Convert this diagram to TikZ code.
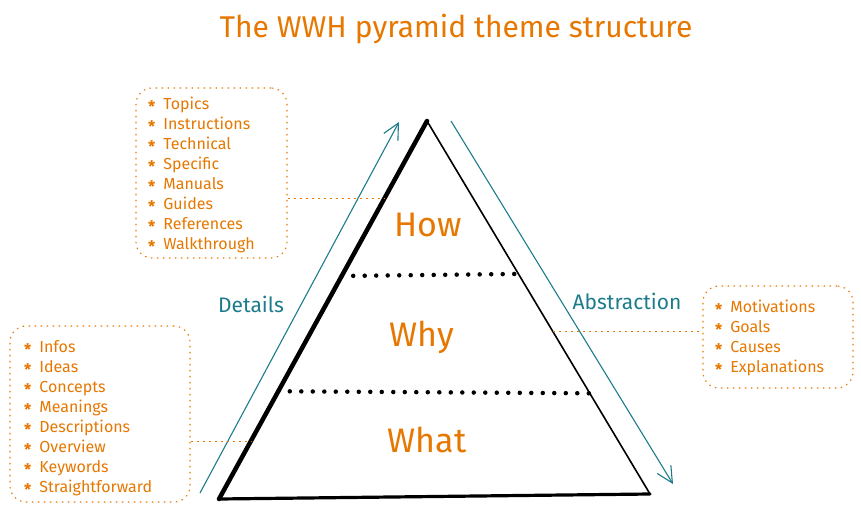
\documentclass[tikz,border=0pt]{standalone}
\usepackage{fontspec}
\setmainfont{Fira Sans}
\usetikzlibrary{arrows.meta, calc, positioning}
\definecolor{wwhorange}{HTML}{E67700}
\definecolor{wwhteal}{HTML}{1C7C8C}
\newcommand{\itm}[1]{\raisebox{-0.35ex}{\bfseries *}\hspace{8pt}#1}

\begin{document}
\begin{tikzpicture}[
    x=1pt, y=-1pt,
    every node/.style={text=wwhorange},
    listbox/.style={draw=wwhorange, line width=1.1pt, dash pattern=on 1.5pt off 4.5pt,
                    rounded corners=16pt, inner sep=0pt},
    listtext/.style={anchor=north west, inner sep=0pt, align=left,
                     font=\fontsize{16}{20}\selectfont},
    level/.style={font=\fontsize{34}{38}\selectfont},
    side/.style={text=wwhteal, font=\fontsize{21}{24}\selectfont},
    link/.style={draw=wwhorange, line width=1pt, dash pattern=on 2pt off 4pt},
    sep/.style={line width=4.5pt, line cap=round, dash pattern=on 0pt off 11.5pt},
    flow/.style={draw=wwhteal, line width=1.1pt,
                 -{Straight Barb[length=16pt, width=16pt, line width=1.1pt]}}
]
    \useasboundingbox (0,0) rectangle (861,511);

    \node[font=\fontsize{30}{34}\selectfont] (title) at (456,29) {The WWH pyramid theme structure};

    % pyramid
    \coordinate (apex) at (427,121);
    \coordinate (bl) at (219,499);
    \coordinate (br) at (650,494);
    \draw[line width=4.5pt, line cap=round] (bl) -- (apex);
    \draw[line width=1.6pt] (apex) -- (br);
    \draw[line width=3.2pt, line cap=round] (bl) -- (br);

    % level separators
    \coordinate (s1l) at ($(apex)!0.41!(bl)$);
    \coordinate (s1r) at ($(apex)!0.41!(br)$);
    \coordinate (s2l) at ($(apex)!0.715!(bl)$);
    \coordinate (s2r) at ($(apex)!0.73!(br)$);
    \draw[sep] (s1l) -- (s1r);
    \draw[sep] (s2l) -- (s2r);

    \node[level] (how) at (428,225) {How};
    \node[level] (why) at (422,337) {Why};
    \node[level] (what) at (427,440) {What};

    % direction arrows
    \coordinate (dstart) at (200,493);
    \coordinate (dend) at (399,122);
    \coordinate (astart) at (451,121);
    \coordinate (aend) at (673,484);
    \draw[flow] (dstart) -- (dend);
    \draw[flow] (astart) -- (aend);
    \node[side] (details) at (251,304) {Details};
    \node[side] (abstr) at (627,301) {Abstraction};

    % How list
    \node[listbox, minimum width=151pt, minimum height=170pt] (howbox) at (211.5,173) {};
    \node[listtext] (howlist) at (148,97) {\itm{Topics}\\ \itm{Instructions}\\ \itm{Technical}\\
        \itm{Specific}\\ \itm{Manuals}\\ \itm{Guides}\\ \itm{References}\\ \itm{Walkthrough}};

    % What list
    \node[listbox, minimum width=180pt, minimum height=176pt] (whatbox) at (100,414) {};
    \node[listtext] (whatlist) at (24,340) {\itm{Infos}\\ \itm{Ideas}\\ \itm{Concepts}\\
        \itm{Meanings}\\ \itm{Descriptions}\\ \itm{Overview}\\ \itm{Keywords}\\ \itm{Straightforward}};

    % Why list
    \node[listbox, minimum width=150pt, minimum height=102pt] (whybox) at (778,337) {};
    \node[listtext] (whylist) at (715,300) {\itm{Motivations}\\ \itm{Goals}\\ \itm{Causes}\\ \itm{Explanations}};

    % links to pyramid
    \coordinate (howpt) at ($(apex)!0.204!(bl)$);
    \coordinate (whatpt) at ($(apex)!0.847!(bl)$);
    \coordinate (whypt) at ($(apex)!0.565!(br)$);
    \draw[link] (howbox.east |- howpt) -- (howpt);
    \draw[link] (whatbox.east |- whatpt) -- (whatpt);
    \draw[link] (whypt) -- (whybox.west |- whypt);
\end{tikzpicture}
\end{document}
